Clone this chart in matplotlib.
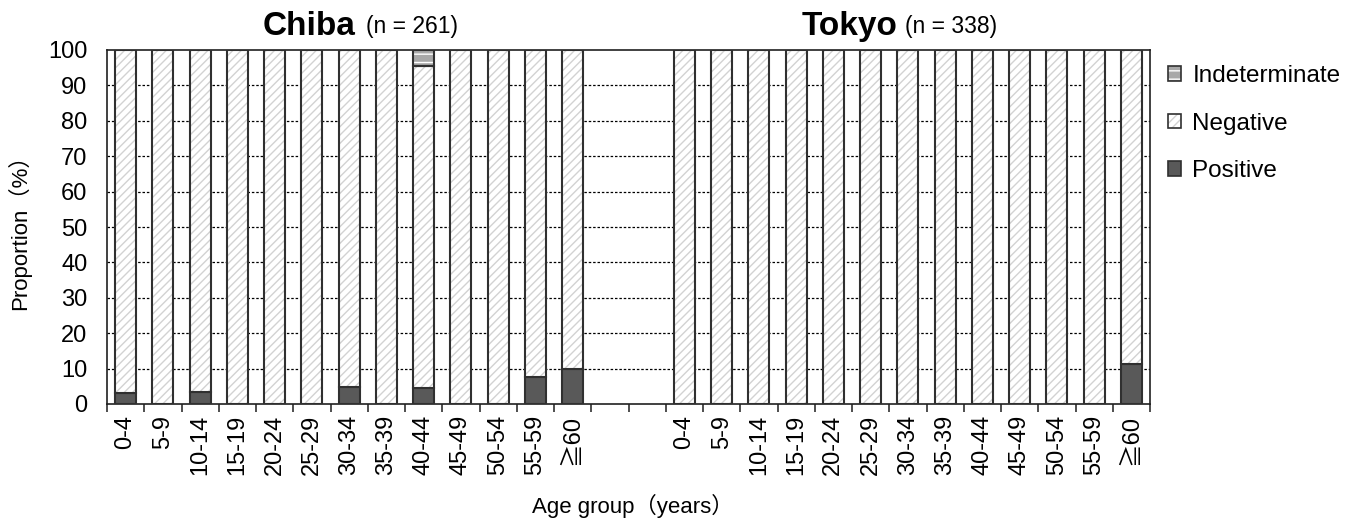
import matplotlib
matplotlib.use("Agg")
import matplotlib.pyplot as plt
from matplotlib.patches import Patch
import numpy as np

plt.rcParams['font.family'] = ['Liberation Sans', 'Noto Sans CJK JP', 'DejaVu Sans']
plt.rcParams['hatch.linewidth'] = 1.0

age_groups = ['0-4', '5-9', '10-14', '15-19', '20-24', '25-29', '30-34',
              '35-39', '40-44', '45-49', '50-54', '55-59', '≧60']

chiba_pos = [3.0, 0, 3.4, 0, 0, 0, 4.9, 0, 4.5, 0, 0, 7.7, 10.0]
chiba_neg = [97.0, 100, 96.6, 100, 100, 100, 95.1, 100, 90.9, 100, 100, 92.3, 90.0]
chiba_ind = [0, 0, 0, 0, 0, 0, 0, 0, 4.6, 0, 0, 0, 0]

tokyo_pos = [0, 0, 0, 0, 0, 0, 0, 0, 0, 0, 0, 0, 11.2]
tokyo_neg = [100, 100, 100, 100, 100, 100, 100, 100, 100, 100, 100, 100, 88.8]
tokyo_ind = [0, 0, 0, 0, 0, 0, 0, 0, 0, 0, 0, 0, 0]

region_titles = ['Chiba', 'Tokyo']
region_n = ['(n = 261)', '(n = 338)']

gap = 2
n = len(age_groups)
x_chiba = np.arange(n)
x_tokyo = np.arange(n) + n + gap
total_slots = 2 * n + gap

fig = plt.figure(figsize=(13.57, 5.24), dpi=100)
ax = fig.add_axes([107/1357, 1 - 404/524, (1150-107)/1357, 354/524])

width = 0.56
edge = '#303030'
pos_color = '#595959'
ind_color = '#a8a8a8'
hatch_col = '#d2d2d2'

def draw(x, pos, neg, ind):
    pos = np.array(pos, float); neg = np.array(neg, float); ind = np.array(ind, float)
    ax.bar(x, pos, width, color=pos_color, edgecolor=edge, linewidth=1.5, zorder=3)
    ax.bar(x, neg, width, bottom=pos, color='white', edgecolor=hatch_col, hatch='////',
           linewidth=0, zorder=3)
    ax.bar(x, neg, width, bottom=pos, color='none', edgecolor=edge, linewidth=1.5, zorder=4)
    m = ind > 0
    ax.bar(x[m], ind[m], width, bottom=(pos + neg)[m], color=ind_color, edgecolor='white',
           hatch='--', linewidth=0, zorder=3)
    ax.bar(x[m], ind[m], width, bottom=(pos + neg)[m], color='none', edgecolor=edge,
           linewidth=1.5, zorder=4)

draw(x_chiba, chiba_pos, chiba_neg, chiba_ind)
draw(x_tokyo, tokyo_pos, tokyo_neg, tokyo_ind)

ax.set_xlim(-0.5, total_slots - 0.5)
ax.set_ylim(0, 100)
ax.set_yticks(np.arange(0, 101, 10))
ax.tick_params(axis='y', length=0, labelsize=17, pad=14)
for yv in range(10, 100, 10):
    ax.axhline(yv, color='black', linestyle=(0, (2, 1.5)), linewidth=0.9, zorder=1)

centers = list(x_chiba) + list(x_tokyo)
labels = age_groups + age_groups
ax.set_xticks(centers)
ax.set_xticklabels(labels, rotation=90, fontsize=17)
ax.tick_params(axis='x', which='major', length=0, pad=8)
ax.set_xticks(np.arange(-0.5, total_slots, 1.0), minor=True)
ax.tick_params(axis='x', which='minor', length=5.5, width=1.2, direction='out', color='#303030')

for s in ax.spines.values():
    s.set_linewidth(1.2)
    s.set_color('#202020')

ax.set_ylabel('Proportion（%）', fontsize=16, labelpad=12)
fig.text(633/1357, 1 - 506/524, 'Age group（years）', fontsize=16, ha='center', va='center')

trans = matplotlib.transforms.blended_transform_factory(ax.transData, ax.transAxes)
title_pos = [(6.16, 6.45), (20.72, 20.92)]
for (xr, xl), t, nn in zip(title_pos, region_titles, region_n):
    ax.text(xr, 1.065, t, transform=trans, ha='right', va='center', fontsize=24, fontweight='bold')
    ax.text(xl, 1.065, nn, transform=trans, ha='left', va='center', fontsize=16.5)

h_ind = (Patch(facecolor=ind_color, edgecolor='white', hatch='--', linewidth=0),
         Patch(facecolor='none', edgecolor=edge, linewidth=1.2))
h_neg = (Patch(facecolor='white', edgecolor=hatch_col, hatch='////', linewidth=0),
         Patch(facecolor='none', edgecolor=edge, linewidth=1.2))
h_pos = Patch(facecolor=pos_color, edgecolor=edge, linewidth=1.2)
fig.legend([h_ind, h_neg, h_pos], ['Indeterminate', 'Negative', 'Positive'],
           loc='upper left', bbox_to_anchor=(1168/1357, 1 - 65/524), frameon=False,
           fontsize=17.5, handlelength=0.55, handleheight=0.55, handletextpad=0.45,
           labelspacing=1.05, borderaxespad=0, borderpad=0)

fig.savefig('out.png', dpi=100)
